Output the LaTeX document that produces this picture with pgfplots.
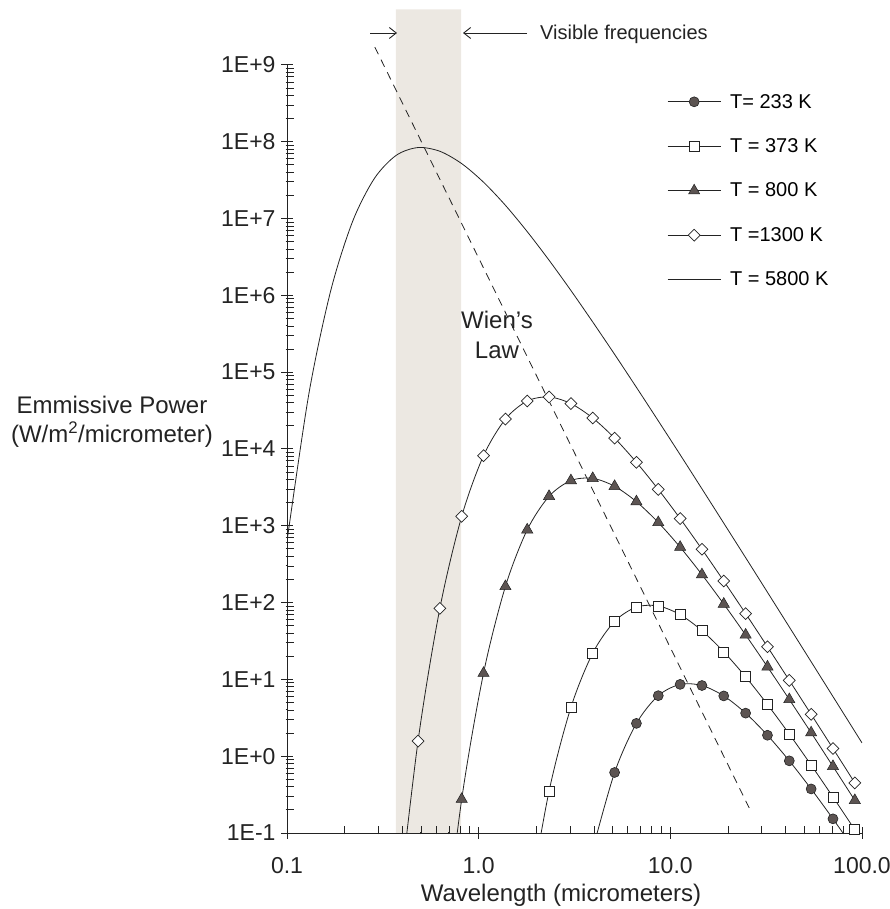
\documentclass[border=0pt]{standalone}
\usepackage{fontspec}
\setmainfont{Liberation Sans}
\usepackage{pgfplots}
\pgfplotsset{compat=1.18}
\usetikzlibrary{arrows.meta}

\definecolor{inkline}{RGB}{35,35,35}
\definecolor{markfill}{RGB}{92,84,82}
\definecolor{visband}{RGB}{236,232,226}

\pgfplotsset{
  planckaxis/.style={
    scale only axis, width=575pt, height=768pt,
    at={(287pt,76pt)}, anchor=south west,
    xmin=0.1, xmax=100, ymin=0.1, ymax=1e9,
  },
}

\begin{document}
\begin{tikzpicture}
\useasboundingbox (0,0) rectangle (889pt,909pt);

% band of visible wavelengths and Wien's displacement line (not clipped)
\begin{loglogaxis}[planckaxis, hide axis, clip=false]
  \addplot[draw=none, fill=visband] coordinates {(0.37,0.1) (0.37,5.3e9) (0.81,5.3e9) (0.81,0.1) (0.37,0.1)};
  \addplot[inkline, line width=0.8pt, dash pattern=on 8pt off 6pt] coordinates {(0.2873,1.71e9) (25.88,0.2084)};
\end{loglogaxis}

% black-body spectra
\begin{loglogaxis}[planckaxis,
  axis lines*=left,
  axis line style={-, line width=0.9pt, inkline},
  tick style={line width=1pt, inkline},
  tick align=center, major tick length=12pt,
  xtickten={-1,0,1,2}, xticklabels={0.1,1.0,10.0,100.0},
  ytickten={-1,0,...,9},
  yticklabels={1E-1,1E+0,1E+1,1E+2,1E+3,1E+4,1E+5,1E+6,1E+7,1E+8,1E+9},
  minor xtick={}, minor ytick={},
  % short inward ticks between the decades
  extra x ticks={0.2,0.3,0.4,0.5,0.6,0.7,0.8,0.9,2,3,4,5,6,7,8,9,20,30,40,50,60,70,80,90},
  extra x tick labels={},
  extra x tick style={tick align=inside, major tick length=7pt, tick style={line width=0.9pt, inkline}},
  extra y ticks={0.2,0.3,0.4,0.5,0.6,0.7,0.8,0.9,
    2,3,4,5,6,7,8,9,20,30,40,50,60,70,80,90,
    200,300,400,500,600,700,800,900,2000,3000,4000,5000,6000,7000,8000,9000,
    20000,30000,40000,50000,60000,70000,80000,90000,
    2e5,3e5,4e5,5e5,6e5,7e5,8e5,9e5,2e6,3e6,4e6,5e6,6e6,7e6,8e6,9e6,
    2e7,3e7,4e7,5e7,6e7,7e7,8e7,9e7,2e8,3e8,4e8,5e8,6e8,7e8,8e8,9e8},
  extra y tick labels={},
  extra y tick style={tick align=inside, major tick length=7pt, tick style={line width=0.9pt, inkline}},
  tick label style={font=\fontsize{23}{27}\selectfont, text=inkline},
  xticklabel style={yshift=-15pt},
  yticklabel style={xshift=-2pt},
  every axis plot/.append style={line width=0.8pt, inkline, smooth},
  legend cell align=left,
  legend style={draw=none, fill=none, at={(0.661,0.965)}, anchor=north west,
    font=\fontsize{20}{24}\selectfont, row sep=25pt, column sep=7pt, inner sep=0pt},
  legend image code/.code={\draw[mark repeat=2,mark phase=2,#1] plot coordinates {(0pt,0pt) (26.5pt,0pt) (53pt,0pt)};},
]
  % T = 233 K
  \addplot[mark=*, mark size=5pt, mark options={solid, fill=markfill, draw=inkline, line width=0.6pt}]
    coordinates {(3.937,0.0611) (5.119,0.6137) (6.654,2.675) (8.650,6.138) (11.25,8.613) (14.62,8.325)
      (19.00,6.093) (24.71,3.637) (32.12,1.875) (41.75,0.8701) (54.28,0.3748) (70.56,0.1529) (91.73,0.0600)};
  \addlegendentry{T= 233 K}
  % T = 373 K
  \addplot[mark=square*, mark size=5pt, mark options={solid, fill=white, draw=inkline, line width=0.7pt}]
    coordinates {(1.792,0.00909) (2.330,0.3516) (3.029,4.322) (3.937,22.00) (5.119,56.85) (6.654,87.36)
      (8.650,90.43) (11.25,69.64) (14.62,43.13) (19.00,22.83) (24.71,10.80) (32.12,4.712)
      (41.75,1.941) (54.28,0.7672) (70.56,0.2941) (91.73,0.1102)};
  \addlegendentry{T = 373 K}
  % T = 800 K
  \addplot[mark=triangle*, mark size=6.5pt, mark options={solid, fill=markfill, draw=inkline, line width=0.5pt}]
    coordinates {(0.6275,0.00137) (0.8157,0.2754) (1.060,12.03) (1.379,162.3) (1.792,886.9) (2.330,2422)
      (3.029,3882) (3.937,4147) (5.119,3270) (6.654,2061) (8.650,1104) (11.25,526.8) (14.62,231.3)
      (19.00,95.80) (24.71,37.96) (32.12,14.58) (41.75,5.476) (54.28,2.021) (70.56,0.7369) (91.73,0.2659)};
  \addlegendentry{T = 800 K}
  % T = 1300 K
  \addplot[mark=square*, mark size=4.2pt, mark options={solid, rotate=45, fill=white, draw=inkline, line width=0.7pt}]
    coordinates {(0.3713,0.00601) (0.4827,1.573) (0.6275,84.2) (0.8157,1328) (1.060,8185) (1.379,24510)
      (1.792,42170) (2.330,47560) (3.029,39020) (3.937,25310) (5.119,13850) (6.654,6707) (8.650,2978)
      (11.25,1242) (14.62,495.0) (19.00,190.9) (24.71,71.9) (32.12,26.6) (41.75,9.71) (54.28,3.51)
      (70.56,1.26) (91.73,0.449)};
  \addlegendentry{T =1300 K}
  % T = 5800 K (solar surface)
  \addplot[no marks]
    coordinates {(0.1,630.3) (0.13,52030) (0.169,1.145e6) (0.2197,9.127e6) (0.2856,3.328e7)
      (0.3713,6.661e7) (0.4827,8.415e7) (0.6275,7.525e7) (0.8157,5.196e7) (1.060,2.977e7)
      (1.379,1.489e7) (1.792,6.767e6) (2.330,2.869e6) (3.029,1.158e6) (3.937,4.504e5)
      (5.119,1.708e5) (6.654,63480) (8.650,23260) (11.25,8432) (14.62,3030) (19.00,1082)
      (24.71,384.8) (32.12,136.3) (41.75,48.17) (54.28,16.98) (70.56,5.977) (91.73,2.101) (100,1.489)};
  \addlegendentry{T = 5800 K}
\end{loglogaxis}

% annotations
\draw[inkline, line width=0.9pt, -{Straight Barb[length=7pt,width=11pt]}] (370pt,876pt) -- (397pt,876pt);
\draw[inkline, line width=0.9pt, -{Straight Barb[length=7pt,width=11pt]}] (527pt,876pt) -- (463pt,876pt);
\node[anchor=base west, inner sep=0pt, text=inkline, font=\fontsize{20}{24}\selectfont] at (540pt,869pt) {Visible frequencies};
\node[align=center, text=inkline, font=\fontsize{24}{30}\selectfont] at (497pt,574pt) {Wien's\\Law};
\node[align=center, text=inkline, font=\fontsize{24}{29}\selectfont] at (112pt,487pt) {Emmissive Power\\(W/m\textsuperscript{2}/micrometer)};
\node[anchor=base, inner sep=0pt, text=inkline, font=\fontsize{24}{29}\selectfont] at (561pt,7pt) {Wavelength (micrometers)};
\end{tikzpicture}
\end{document}
